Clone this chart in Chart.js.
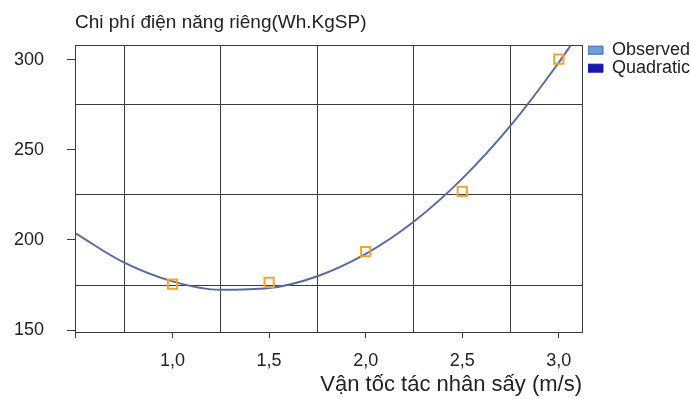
<!DOCTYPE html>
<html>
<head>
<meta charset="utf-8">
<script src="https://cdn.jsdelivr.net/npm/chart.js@4/dist/chart.umd.min.js"></script>
<style>
  html, body { margin: 0; padding: 0; background: #fff; }
  #wrap { width: 691px; height: 399px; }
</style>
</head>
<body>
<div id="wrap"><canvas id="chart" width="691" height="399"></canvas></div>
<script>
// chart data
const observedX = [1.0, 1.5, 2.0, 2.5, 3.0];
const observedY = [175.5, 176.5, 193.5, 227, 300.5];

const quadX = [0.5, 0.75, 1.0, 1.25, 1.5, 1.75, 2.0, 2.25, 2.5, 2.75, 3.0, 3.06];
const quadY = [203.5, 187.4, 177.0, 172.3, 173.3, 179.9, 192.3, 210.3, 234.1, 263.5, 298.6, 307.9];

const xTickValues = [0.5, 1.0, 1.5, 2.0, 2.5, 3.0];
const xTickLabels = ['', '1,0', '1,5', '2,0', '2,5', '3,0'];
const yTickValues = [150, 200, 250, 300];
const xGridValues = [0.75, 1.25, 1.75, 2.25, 2.75];
const yGridValues = [175, 225, 275];

const seriesNames = ['Observed', 'Quadratic'];

const FONT = "'Liberation Sans', Arial, sans-serif";
const INK = '#222';
const GRID = '#3c3c3c';
const X_MIN = 0.495, X_MAX = 3.12;
const Y_MIN = 148.9, Y_MAX = 308.3;

function toPoints(xs, ys) {
    return xs.map((x, i) => ({ x: x, y: ys[i] }));
}

new Chart(document.getElementById('chart').getContext('2d'), {
    type: 'scatter',
    data: {
        datasets: [{
            label: seriesNames[0],
            data: toPoints(observedX, observedY),
            pointStyle: 'rect',
            pointRadius: 6.5,
            pointBorderWidth: 2,
            borderColor: '#f0a436',
            backgroundColor: 'rgba(255,255,255,0)',
            showLine: false
        }, {
            label: seriesNames[1],
            data: toPoints(quadX, quadY),
            showLine: true,
            borderColor: '#5b6a9c',
            borderWidth: 2,
            pointRadius: 0,
            tension: 0.4,
            cubicInterpolationMode: 'monotone'
        }]
    },
    options: {
        responsive: false,
        animation: false,
        layout: { padding: 0 },
        plugins: {
            tooltip: { enabled: false },
            title: {
                display: true,
                text: 'Chi phí điện năng riêng(Wh.KgSP)',
                align: 'start',
                fullSize: false,
                color: INK,
                font: { family: FONT, size: 19, weight: 'normal' },
                padding: { top: 11, bottom: 11.2 }
            },
            legend: {
                position: 'right',
                align: 'start',
                maxWidth: 103,
                title: { display: true, text: '', font: { size: 1 }, padding: { top: 40, bottom: 0 } },
                labels: {
                    color: INK,
                    font: { family: FONT, size: 18 },
                    boxWidth: 15,
                    boxHeight: 8,
                    padding: 0,
                    generateLabels: function (chart) {
                        const swatches = [
                            { fill: '#6f9fd8', stroke: '#3a62b4' },
                            { fill: '#1a1aa8', stroke: '#1a1aa8' }
                        ];
                        return seriesNames.map((name, i) => ({
                            text: name,
                            fillStyle: swatches[i].fill,
                            strokeStyle: swatches[i].stroke,
                            lineWidth: 1,
                            fontColor: INK,
                            hidden: false,
                            datasetIndex: i
                        }));
                    }
                }
            }
        },
        scales: {
            x: {
                type: 'linear',
                position: 'bottom',
                min: X_MIN,
                max: X_MAX,
                afterBuildTicks: (scale) => { scale.ticks = xTickValues.map(v => ({ value: v })); },
                afterFit: (scale) => { scale.height = 67; },
                ticks: {
                    color: INK,
                    padding: 12,
                    maxRotation: 0,
                    autoSkip: false,
                    font: { family: FONT, size: 18 },
                    callback: (value) => {
                        const i = xTickValues.indexOf(value);
                        return i >= 0 ? xTickLabels[i] : '';
                    }
                },
                grid: { drawOnChartArea: false, drawTicks: true, tickLength: 6, color: GRID },
                border: { display: true, color: GRID, width: 1 },
                title: {
                    display: true,
                    text: 'Vận tốc tác nhân sấy (m/s)',
                    align: 'end',
                    color: INK,
                    font: { family: FONT, size: 22 },
                    padding: { top: 0, bottom: 1 }
                }
            },
            y: {
                type: 'linear',
                position: 'left',
                min: Y_MIN,
                max: Y_MAX,
                afterBuildTicks: (scale) => { scale.ticks = yTickValues.map(v => ({ value: v })); },
                afterFit: (scale) => { scale.width = 75; },
                ticks: {
                    color: INK,
                    padding: 23,
                    font: { family: FONT, size: 18 }
                },
                grid: { drawOnChartArea: false, drawTicks: true, tickLength: 8, color: GRID },
                border: { display: true, color: GRID, width: 1 }
            },
            xGrid: {
                type: 'linear',
                position: 'top',
                min: X_MIN,
                max: X_MAX,
                afterBuildTicks: (scale) => { scale.ticks = xGridValues.map(v => ({ value: v })); },
                afterFit: (scale) => { scale.height = 0; },
                ticks: { display: false },
                grid: { drawOnChartArea: true, drawTicks: false, color: GRID, lineWidth: 1 },
                border: { display: true, color: GRID, width: 1 }
            },
            yGrid: {
                type: 'linear',
                position: 'right',
                min: Y_MIN,
                max: Y_MAX,
                afterBuildTicks: (scale) => { scale.ticks = yGridValues.map(v => ({ value: v })); },
                afterFit: (scale) => { scale.width = 6; },
                ticks: { display: false },
                grid: { drawOnChartArea: true, drawTicks: false, color: GRID, lineWidth: 1 },
                border: { display: true, color: GRID, width: 1 }
            }
        }
    }
});
</script>
</body>
</html>
